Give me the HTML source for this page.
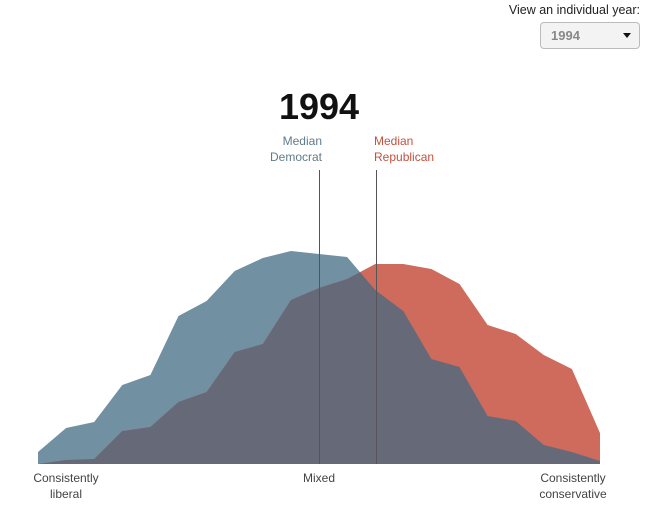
<!DOCTYPE html>
<html><head><meta charset="utf-8"><style>
body{margin:0;background:#fff;font-family:"Liberation Sans",sans-serif;}
#wrap{position:relative;width:650px;height:507px;overflow:hidden;}
.t{position:absolute;font-size:12px;line-height:16px;white-space:nowrap;}
</style></head><body>
<div id="wrap">
<div class="t" style="right:10px;top:2px;color:#222;font-size:12.5px;">View an individual year:</div>
<div style="position:absolute;left:540px;top:22px;width:98px;height:25px;border:1px solid #bbb;border-radius:4px;background:#f3f3f3;">
<span style="position:absolute;left:10px;top:5px;font-size:13px;font-weight:bold;color:#888;">1994</span>
<span style="position:absolute;right:8px;top:10px;width:0;height:0;border-left:4px solid transparent;border-right:4px solid transparent;border-top:5px solid #111;"></span>
</div>
<div style="position:absolute;left:319px;top:86px;transform:translateX(-50%);font-size:36px;font-weight:bold;color:#111;">1994</div>
<div class="t" style="right:328px;top:133px;color:#5f7c8c;text-align:right;">Median<br>Democrat</div>
<div class="t" style="left:374px;top:133px;color:#c4513d;">Median<br>Republican</div>
<div class="t" style="left:66px;top:470px;transform:translateX(-50%);color:#444;text-align:center;">Consistently<br>liberal</div>
<div class="t" style="left:319px;top:470px;transform:translateX(-50%);color:#444;">Mixed</div>
<div class="t" style="left:573px;top:470px;transform:translateX(-50%);color:#444;text-align:center;">Consistently<br>conservative</div>
<svg id="svg" width="650" height="507" style="position:absolute;left:0;top:0;"></svg>
</div>
<script>
const demValues=[12,36,42,79,89,148,163,193,206,213,210,207,174,153,105,97,48,43,19,12,3];
const repValues=[0,4,5,33,37,62,72,112,120,164,176,185,200,200,195,180,139,130,109,95,31];
const demMedian=10.0;
const repMedian=12.03;
const N=demValues.length;
const x=i=>38+i*(600-38)/(N-1);
const y=v=>464-v;
const ns="http://www.w3.org/2000/svg";
const svg=document.getElementById('svg');
function area(vals){let d='M'+x(0)+','+y(0);vals.forEach((v,i)=>d+=' L'+x(i)+','+y(v));d+=' L'+x(N-1)+','+y(0)+' Z';return d;}
const defs=document.createElementNS(ns,'defs');
const cp=document.createElementNS(ns,'clipPath');cp.setAttribute('id','demclip');
const cpp=document.createElementNS(ns,'path');cpp.setAttribute('d',area(demValues));cp.appendChild(cpp);defs.appendChild(cp);svg.appendChild(defs);
const dem=document.createElementNS(ns,'path');


dem.setAttribute('d',area(demValues));dem.setAttribute('fill','#7190a1');svg.appendChild(dem);
const rep=document.createElementNS(ns,'path');


rep.setAttribute('d',area(repValues));rep.setAttribute('fill','#cf6b5c');svg.appendChild(rep);
const ov=document.createElementNS(ns,'path');


ov.setAttribute('d',area(repValues));ov.setAttribute('fill','#666a78');ov.setAttribute('clip-path','url(#demclip)');svg.appendChild(ov);
[[demMedian,'median-democrat-line'],[repMedian,'median-republican-line']].forEach(([m,n])=>{
const l=document.createElementNS(ns,'line');


l.setAttribute('x1',Math.round(x(m))+0.5);l.setAttribute('x2',Math.round(x(m))+0.5);l.setAttribute('y1',170);l.setAttribute('y2',464);
l.setAttribute('stroke','#555');l.setAttribute('stroke-width','1');svg.appendChild(l);});
</script>
</body></html>
